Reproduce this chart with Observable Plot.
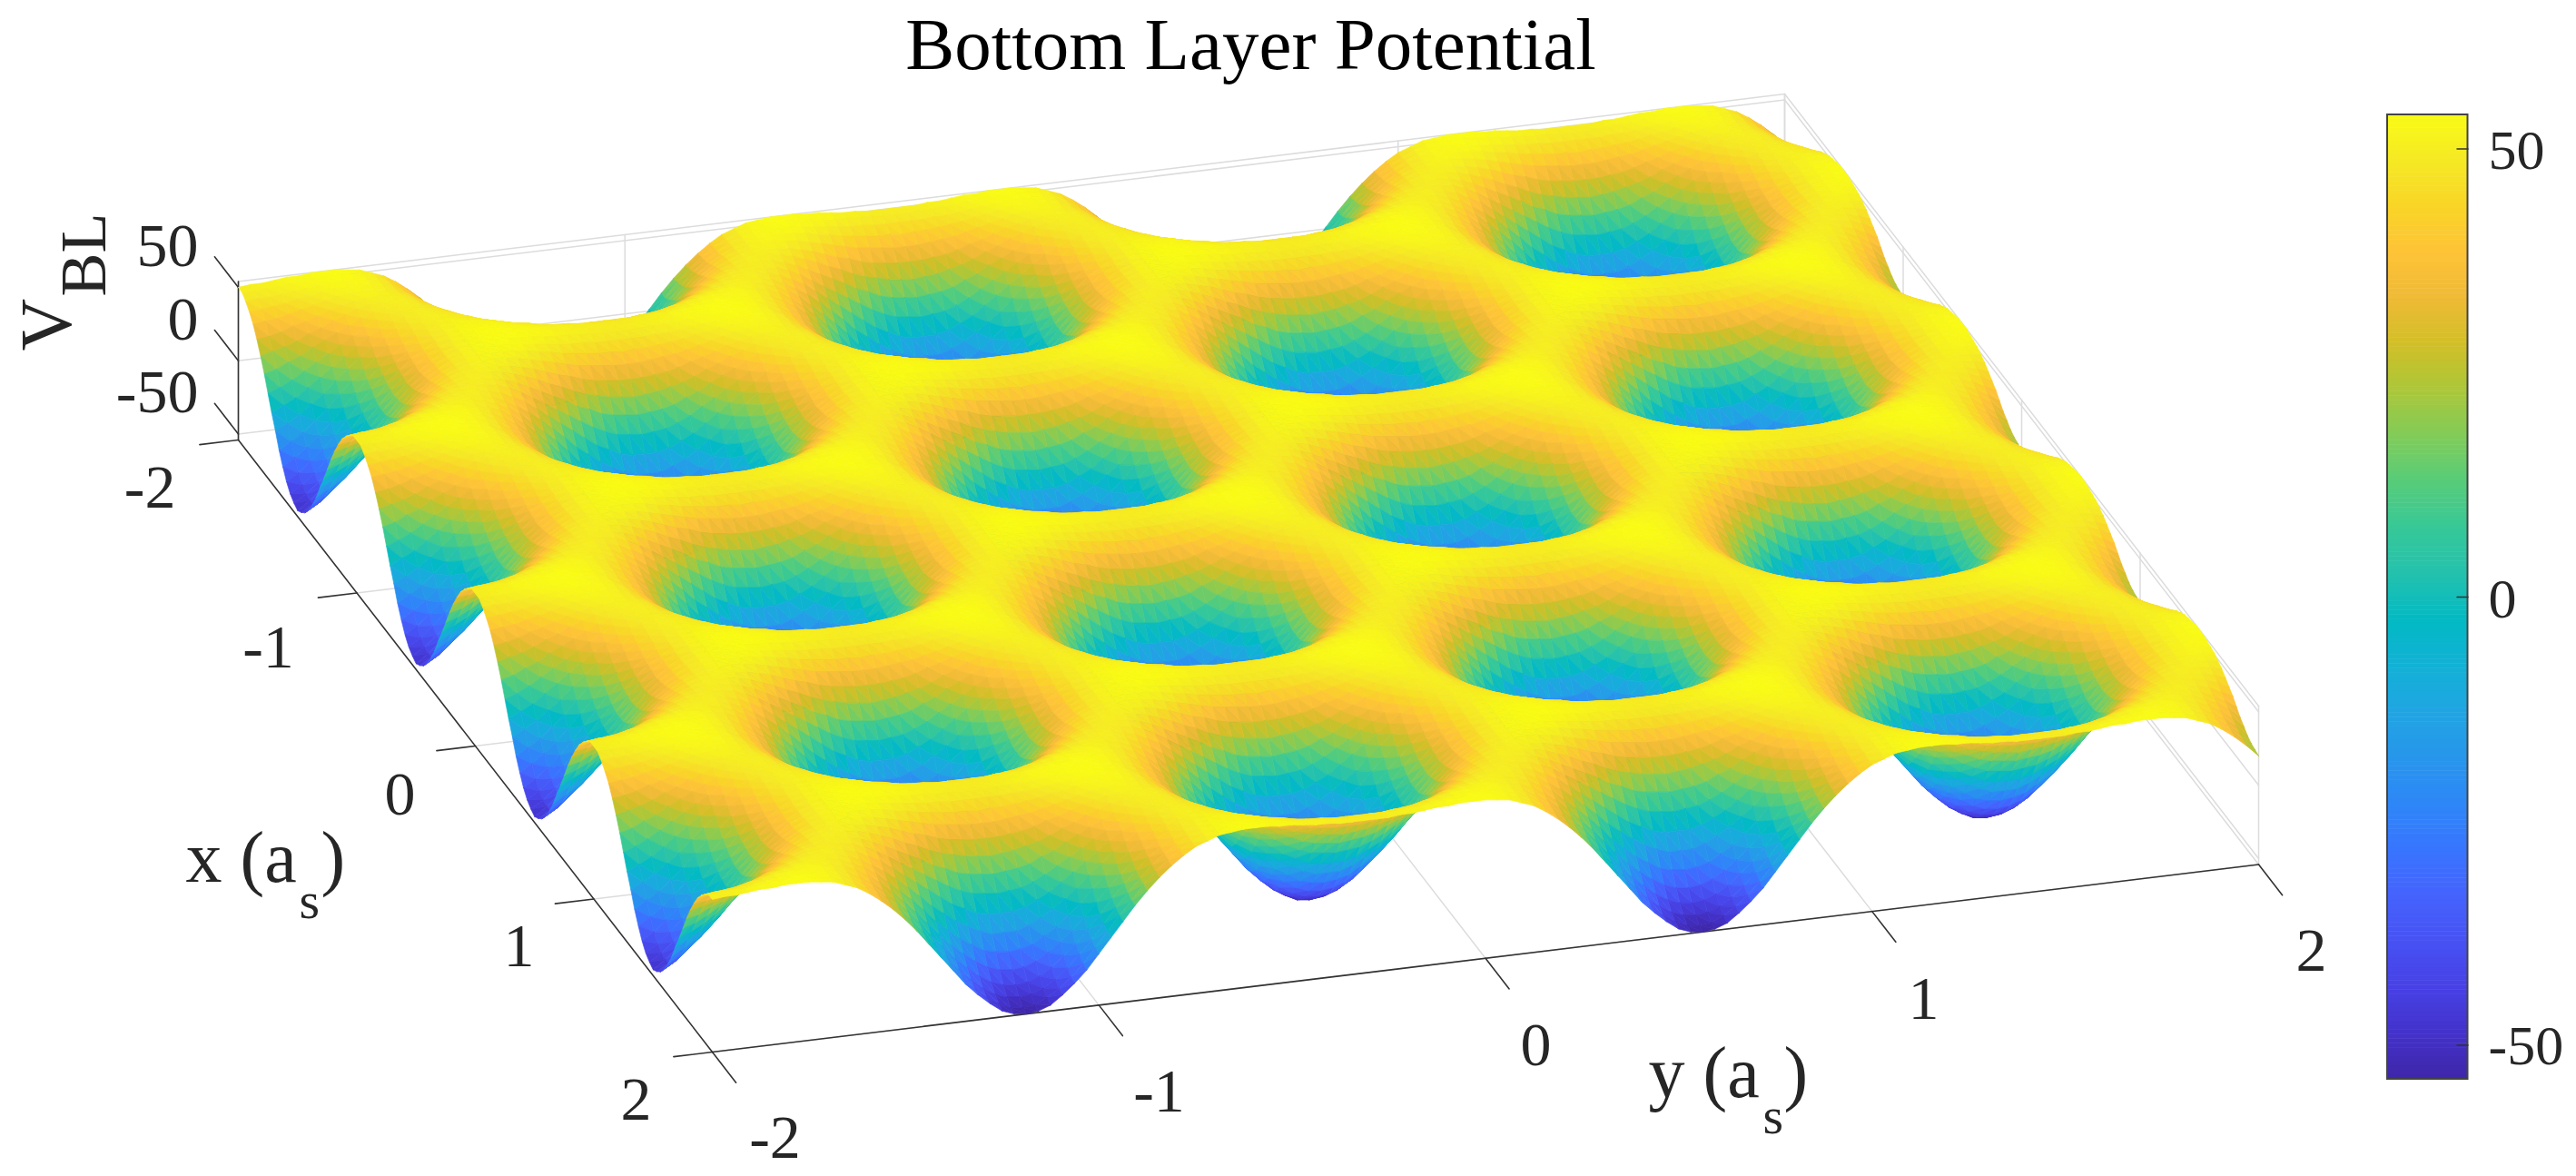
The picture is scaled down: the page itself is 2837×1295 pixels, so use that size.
<!DOCTYPE html>
<html><head><meta charset="utf-8">
<style>html,body{margin:0;padding:0;background:#fff}svg{display:block}</style>
<script src="https://cdn.jsdelivr.net/npm/d3@7"></script>
<script src="https://cdn.jsdelivr.net/npm/@observablehq/plot@0.6"></script>
</head><body><div id="chart"></div>
<script>
// V_BL profiles, one list per x row type
const profile0=[-54,-53,-50,-44,-37,-29,-19,-9,1,11,20,28,35,41,46,49,52,53,54,54,54,53,53,52,51,51,50,50,50];
const profile1=[-53,-52,-48,-43,-36,-28,-18,-8,2,11,21,29,36,42,46,50,52,53,54,54,53,53,52,51,51,50,50,49,49];
const profile2=[-49,-48,-45,-40,-33,-25,-16,-6,4,13,22,30,37,42,47,50,52,53,53,53,52,51,50,49,48,48,47,47,47];
const profile3=[-44,-43,-40,-35,-28,-21,-12,-3,7,16,24,32,38,43,47,50,52,52,52,52,51,49,48,46,45,44,43,43,42];
const profile4=[-37,-36,-33,-28,-22,-15,-7,2,11,19,27,34,40,45,48,50,51,52,51,50,48,46,44,42,40,39,38,37,37];
const profile5=[-28,-27,-25,-20,-15,-8,-1,8,16,23,30,37,42,46,49,50,51,50,49,47,45,42,39,37,34,32,31,30,30];
const profile6=[-18,-18,-15,-11,-6,0,6,14,21,28,34,39,44,47,50,50,50,49,47,44,41,37,34,30,27,25,23,22,21];
const profile7=[-8,-8,-6,-2,2,8,14,20,26,32,38,42,46,48,50,50,49,47,44,40,36,32,28,23,20,16,14,13,12];
const profile8=[2,3,4,7,11,16,21,26,31,36,41,45,48,49,50,49,48,45,41,36,31,26,21,16,11,7,4,3,2];
const profile9=[12,13,14,16,20,23,28,32,36,40,44,47,49,50,50,48,46,42,38,32,26,20,14,8,2,-2,-6,-8,-8];
const profile10=[21,22,23,25,27,30,34,37,41,44,47,49,50,50,50,47,44,39,34,28,21,14,6,0,-6,-11,-15,-18,-18];
const profile11=[30,30,31,32,34,37,39,42,45,47,49,50,51,50,49,46,42,37,30,23,16,8,-1,-8,-15,-20,-25,-27,-28];
const profile12=[37,37,38,39,40,42,44,46,48,50,51,52,51,50,48,45,40,34,27,19,11,2,-7,-15,-22,-28,-33,-36,-37];
const profile13=[42,43,43,44,45,46,48,49,51,52,52,52,52,50,47,43,38,32,24,16,7,-3,-12,-21,-28,-35,-40,-43,-44];
const profile14=[47,47,47,48,48,49,50,51,52,53,53,53,52,50,47,42,37,30,22,13,4,-6,-16,-25,-33,-40,-45,-48,-49];
const profile15=[49,49,50,50,51,51,52,53,53,54,54,53,52,50,46,42,36,29,21,11,2,-8,-18,-28,-36,-43,-48,-52,-53];
const profile16=[50,50,50,51,51,52,53,53,54,54,54,53,52,49,46,41,35,28,20,11,1,-9,-19,-29,-37,-44,-50,-53,-54];
const profiles=[profile0,profile1,profile2,profile3,profile4,profile5,profile6,profile7,profile8,profile9,profile10,profile11,profile12,profile13,profile14,profile15,profile16];
// which profile each x row (x=-2..2 by 1/32) uses
const rowCycle=[0,1,2,3,4,5,6,7,8,9,10,11,12,13,14,15,16,15,14,13,12,11,10,9,8,7,6,5,4,3,2,1];
const rowOfX=[...rowCycle,...rowCycle,...rowCycle,...rowCycle,0];
// which profile entry each y column (y=-2..2 by 1/32) uses
const colOfY=[26,25,24,23,22,21,20,19,18,17,16,15,14,13,12,11,10,9,8,7,6,5,4,3,2,1,0,
1,2,3,4,5,6,7,8,9,10,11,12,13,14,15,16,17,18,19,20,21,22,23,24,25,26,27,28,
27,26,25,24,23,22,21,20,19,18,17,16,15,14,13,12,11,10,9,8,7,6,5,4,3,2,1,0,
1,2,3,4,5,6,7,8,9,10,11,12,13,14,15,16,17,18,19,20,21,22,23,24,25,26,27,28,
27,26,25,24,23,22,21,20,19,18,17,16,15,14,13,12,11,10];
const axisTicks=[-2,-1,0,1,2];
const zTicks=[-50,0,50];
const colorbarTicks=[-50,0,50];
const zMin=-54, zMax=54, cMin=-53.8, cMax=53.8;
const parula=["#3e26a8","#4332cb","#4741e5","#4752f4","#4563fd","#3875fe","#2e87f7","#2796eb","#20a5e3","#12b1d6","#02bac3","#24c1ae","#37c897","#57cc7a","#81cc59","#abc739","#d1bf27","#efba36","#fec338","#f9d527","#f5e924","#f9fb15"];

// view: orthographic box projection
const O={x:784,y:1158}, EX={x:-522,y:-674}, EY={x:1703,y:-206.5}, ZS=1.615;
const project=(x,y,z)=>{const a=(2-x)/4,b=(y+2)/4;return {px:O.x+a*EX.x+b*EY.x,py:O.y+a*EX.y+b*EY.y-(z-zMin)*ZS};};
const V=(i,h)=>profiles[rowOfX[i]][colOfY[h]];
const X=i=>-2+i/32, Y=h=>-2+h/32;

const facets=[];
let fid=0;
const pushTri=c=>{
  const v=d3.mean(c,([a,b])=>V(a,b));
  for(const [a,b] of [...c,c[0]]) facets.push({id:fid,v,...project(X(a),Y(b),V(a,b))});
  fid++;
};
for(let i=0;i<rowOfX.length-1;i++){
  for(let h=colOfY.length-2;h>=0;h--){
    pushTri([[i,h+1],[i+1,h+1],[i,h]]);
    pushTri([[i+1,h+1],[i+1,h],[i,h]]);
  }
}
const seg=(list,id,p,q)=>{list.push({id,...p});list.push({id,...q});};
const grid=[],axes=[];let gid=0;
for(const t of axisTicks){
  if(t>-2){seg(grid,gid++,project(t,-2,zMin),project(t,2,zMin));seg(grid,gid++,project(-2,t,zMin),project(2,t,zMin));}
  seg(grid,gid++,project(-2,t,zMin),project(-2,t,zMax));
  seg(grid,gid++,project(t,2,zMin),project(t,2,zMax));
  seg(axes,gid++,project(t,-2,zMin),project(t,-2.1,zMin));
  seg(axes,gid++,project(2,t,zMin),project(2.2,t,zMin));
}
for(const z of [...zTicks,zMax]){
  seg(grid,gid++,project(-2,-2,z),project(-2,2,z));
  seg(grid,gid++,project(-2,2,z),project(2,2,z));
}
for(const z of zTicks) seg(axes,gid++,project(-2,-2,z),project(-2.2,-2,z));
seg(axes,gid++,project(-2,-2,zMin),project(2,-2,zMin));
seg(axes,gid++,project(2,-2,zMin),project(2,2,zMin));
seg(axes,gid++,project(-2,-2,zMin),project(-2,-2,zMax));

// colour bar
const CB={x1:2629,x2:2717.5,y0:657,k:9.87};
const cbY=v=>CB.y0-CB.k*v;
const cbLevels=d3.range(0,216).map(n=>cMin+(n+0.5)*(cMax-cMin)/216);
const cbStep=(cMax-cMin)/216;
const cbTicks=[];colorbarTicks.forEach((t,n)=>{cbTicks.push({id:n,px:CB.x2-12,py:cbY(t)});cbTicks.push({id:n,px:CB.x2,py:cbY(t)});});

const labels=[
 {t:"50",px:218,py:292,s:68,a:"end"},{t:"0",px:218,py:373,s:68,a:"end"},{t:"-50",px:218,py:453,s:68,a:"end"},
 {t:"-2",px:193,py:558,s:68,a:"end"},{t:"-1",px:295,py:734,s:68,a:"middle"},{t:"0",px:440,py:896,s:68,a:"middle"},{t:"1",px:571,py:1063,s:68,a:"middle"},{t:"2",px:700,py:1232,s:68,a:"middle"},
 {t:"-2",px:853,py:1274,s:68,a:"middle"},{t:"-1",px:1276,py:1223,s:68,a:"middle"},{t:"0",px:1691,py:1172,s:68,a:"middle"},{t:"1",px:2118,py:1121,s:68,a:"middle"},{t:"2",px:2545,py:1068,s:68,a:"middle"},
 {t:"x (a",px:204,py:970,s:80,a:"start"},{t:"s",px:329,py:1010,s:58,a:"start"},{t:")",px:353,py:970,s:80,a:"start"},
 {t:"y (a",px:1815,py:1207,s:80,a:"start"},{t:"s",px:1941,py:1247,s:58,a:"start"},{t:")",px:1964,py:1207,s:80,a:"start"},
 {t:"50",px:2740,py:185,s:62,a:"start"},{t:"0",px:2740,py:679,s:62,a:"start"},{t:"-50",px:2740,py:1171,s:62,a:"start"}
];
const rotLabels=[{t:"V",px:77,py:357,s:80},{t:"BL",px:115,py:280,s:72}];
const titleRow=[{t:"Bottom Layer Potential",px:1377,py:75,s:81}];
const textOpts={x:"px",y:"py",text:"t",fontSize:"s",lineAnchor:"bottom",fontFamily:"Liberation Serif",fill:"#262626"};
const byAnchor=a=>labels.filter(d=>d.a===a);

const chart=Plot.plot({
  width:2837,height:1295,margin:0,
  style:{background:"#fff"},
  x:{type:"linear",domain:[0,2837],range:[0,2837],axis:null},
  y:{type:"linear",domain:[0,1295],range:[0,1295],axis:null},
  color:{type:"linear",domain:[cMin,cMax],interpolate:d3.piecewise(d3.interpolateRgb,parula),clamp:true},
  marks:[
    Plot.line(grid,{x:"px",y:"py",z:"id",stroke:"#dcdcdc",strokeWidth:1.5}),
    Plot.line(axes,{x:"px",y:"py",z:"id",stroke:"#333",strokeWidth:1.6}),
    Plot.line(facets,{x:"px",y:"py",z:"id",fill:"v",stroke:"v",strokeWidth:0.7}),
    Plot.rect(cbLevels,{x1:()=>CB.x1,x2:()=>CB.x2,y1:d=>cbY(d+cbStep/2)-0.5,y2:d=>cbY(d-cbStep/2),fill:d=>d}),
    Plot.rect([0],{x1:()=>CB.x1,x2:()=>CB.x2,y1:()=>cbY(cMax),y2:()=>cbY(cMin),fill:"none",stroke:"#444",strokeWidth:2}),
    Plot.line(cbTicks,{x:"px",y:"py",z:"id",stroke:"#333",strokeWidth:1.5}),
    Plot.text(titleRow,{...textOpts,textAnchor:"middle",fill:"#000"}),
    Plot.text(byAnchor("start"),{...textOpts,textAnchor:"start"}),
    Plot.text(byAnchor("middle"),{...textOpts,textAnchor:"middle"}),
    Plot.text(byAnchor("end"),{...textOpts,textAnchor:"end"}),
    Plot.text(rotLabels,{...textOpts,textAnchor:"middle",rotate:-90})
  ]
});
document.getElementById("chart").appendChild(chart);
</script></body></html>
